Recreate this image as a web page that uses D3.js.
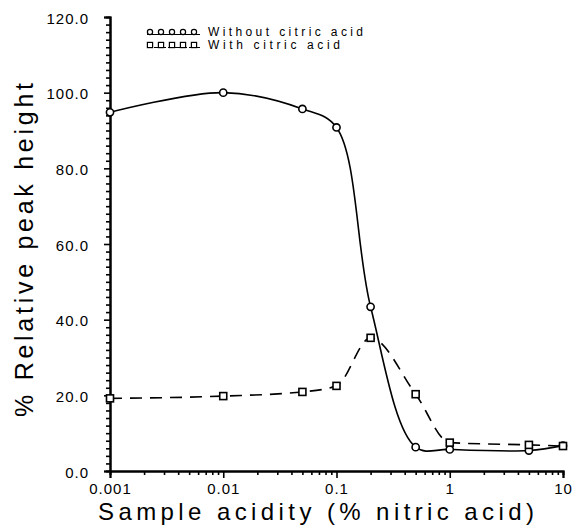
<!DOCTYPE html>
<html>
<head>
<meta charset="utf-8">
<script src="https://cdn.jsdelivr.net/npm/d3@7"></script>
<style>
  html, body { margin: 0; padding: 0; background: #fff; }
  svg { display: block; }
  text { font-family: "Liberation Sans", "DejaVu Sans", sans-serif; fill: #000; }
</style>
</head>
<body>
<svg id="chart" width="574" height="527"></svg>
<script>
// Sample acidity (% nitric acid)
const acidity = [0.001, 0.01, 0.05, 0.1, 0.2, 0.5, 1, 5, 10];
// Relative peak height (%) for each series
const withoutCitric = [94.8, 100.0, 95.7, 90.8, 43.4, 6.3, 5.7, 5.4, 6.7];
const withCitric    = [19.2, 19.8, 20.9, 22.5, 35.2, 20.3, 7.5, 6.9, 6.6];
const seriesNames = ["Without citric acid", "With citric acid"];
// Axis ticks
const xTicks = [0.001, 0.01, 0.1, 1, 10];
const xTickLabels = ["0.001", "0.01", "0.1", "1", "10"];
const yTicks = [0, 20, 40, 60, 80, 100, 120];
const yTickLabels = ["0.0", "20.0", "40.0", "60.0", "80.0", "100.0", "120.0"];

const svg = d3.select("#chart");

const x = d3.scaleLog().domain([0.001, 10]).range([110, 563]);
const y = d3.scaleLinear().domain([0, 120]).range([471, 17]);

// minor ticks: 2..9 within each decade, every 2 units on y
const xMinor = [];
for (let e = -3; e < 1; e++) for (let m = 2; m <= 9; m++) xMinor.push(m * Math.pow(10, e));
const yMinor = d3.range(0, 121, 2).filter(v => v % 20 !== 0);

// x axis
const xAxisG = svg.append("g").attr("transform", `translate(0,${y(0)})`);
xAxisG.call(d3.axisBottom(x).tickValues(xMinor).tickSize(4).tickFormat(""));
xAxisG.call(g => g.append("g").call(d3.axisBottom(x).tickValues(xTicks).tickSize(7)
    .tickFormat((d, i) => xTickLabels[i])));
xAxisG.selectAll(".domain").attr("stroke", "#000").attr("stroke-width", 2);
xAxisG.selectAll(".tick line").attr("stroke", "#000").attr("stroke-width", 1.6);
xAxisG.selectAll(".tick text").attr("font-size", 15).attr("y", 12).attr("dy", "0.71em")
  .attr("letter-spacing", 1)
  .style("font-family", "'Liberation Sans', sans-serif");

// y axis
const yAxisG = svg.append("g").attr("transform", `translate(${x(0.001)},0)`);
yAxisG.call(d3.axisLeft(y).tickValues(yMinor).tickSize(4).tickFormat(""));
yAxisG.call(g => g.append("g").call(d3.axisLeft(y).tickValues(yTicks).tickSize(6)
    .tickFormat((d, i) => yTickLabels[i])));
yAxisG.selectAll(".domain").attr("stroke", "#000").attr("stroke-width", 2);
yAxisG.selectAll(".tick line").attr("stroke", "#000").attr("stroke-width", 1.6);
yAxisG.selectAll(".tick text").attr("font-size", 15).attr("x", -21).attr("dy", "0.4em")
  .attr("letter-spacing", 1)
  .style("font-family", "'Liberation Sans', sans-serif");

// axis titles
svg.append("text")
  .attr("x", 316).attr("y", 520)
  .attr("text-anchor", "middle")
  .attr("font-size", 24)
  .attr("textLength", 436).attr("lengthAdjust", "spacing")
  .text("Sample acidity (% nitric acid)");

svg.append("text")
  .attr("transform", "translate(33,250) rotate(-90)")
  .attr("text-anchor", "middle")
  .attr("font-size", 25)
  .attr("textLength", 334).attr("lengthAdjust", "spacing")
  .text("% Relative peak height");

// curves
const solidLine = d3.line()
  .x(d => x(d[0]))
  .y(d => y(d[1]))
  .curve(d3.curveCatmullRom.alpha(0.5));

const dashLine = d3.line()
  .x(d => x(d[0]))
  .y(d => y(d[1]))
  .curve(d3.curveMonotoneX);

const solidPts = acidity.map((a, i) => [a, withoutCitric[i]]);
const dashPts = acidity.map((a, i) => [a, withCitric[i]]);

svg.append("path").datum(solidPts)
  .attr("d", solidLine).attr("fill", "none")
  .attr("stroke", "#000").attr("stroke-width", 1.6);

svg.append("path").datum(dashPts)
  .attr("d", dashLine).attr("fill", "none")
  .attr("stroke", "#000").attr("stroke-width", 1.6)
  .attr("stroke-dasharray", "12,8");

// markers
svg.append("g").selectAll("circle").data(solidPts).join("circle")
  .attr("cx", d => x(d[0])).attr("cy", d => y(d[1])).attr("r", 3.6)
  .attr("fill", "#fff").attr("stroke", "#000").attr("stroke-width", 1.6);

svg.append("g").selectAll("rect").data(dashPts).join("rect")
  .attr("x", d => x(d[0]) - 3.5).attr("y", d => y(d[1]) - 3.5)
  .attr("width", 7).attr("height", 7)
  .attr("fill", "#fff").attr("stroke", "#000").attr("stroke-width", 1.6);

// legend
const legend = svg.append("g");
const legendRows = [
  { name: seriesNames[0], y: 32, marker: "circle", dash: null, len: 155 },
  { name: seriesNames[1], y: 45, marker: "rect", dash: "5,2", len: 132 }
];
legendRows.forEach(r => {
  legend.append("line")
    .attr("x1", 147).attr("x2", 200).attr("y1", r.y + 2.5).attr("y2", r.y + 2.5)
    .attr("stroke", "#000").attr("stroke-width", 1.2)
    .attr("stroke-dasharray", r.dash);
  d3.range(5).forEach(k => {
    const cx = 150 + k * 11;
    if (r.marker === "circle") {
      legend.append("circle").attr("cx", cx).attr("cy", r.y).attr("r", 2.6)
        .attr("fill", "#fff").attr("stroke", "#000").attr("stroke-width", 1.2);
    } else {
      legend.append("rect").attr("x", cx - 2.6).attr("y", r.y - 2.6)
        .attr("width", 5.2).attr("height", 5.2)
        .attr("fill", "#fff").attr("stroke", "#000").attr("stroke-width", 1.2);
    }
  });
  legend.append("text").attr("x", 208).attr("y", r.y + 4)
    .attr("font-size", 12)
    .attr("textLength", r.len).attr("lengthAdjust", "spacing")
    .text(r.name);
});
</script>
</body>
</html>
